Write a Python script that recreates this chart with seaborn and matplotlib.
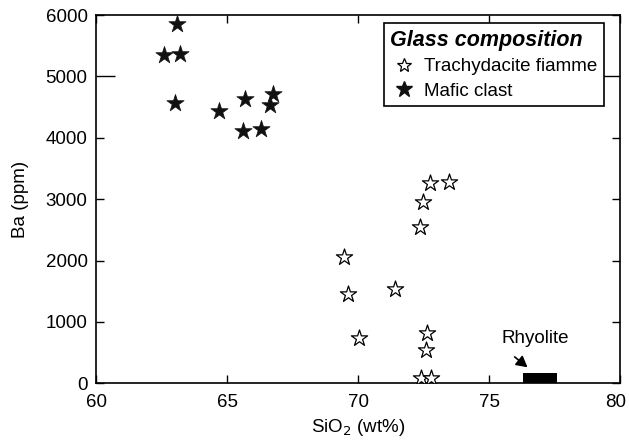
import matplotlib
matplotlib.use("Agg")
import matplotlib.pyplot as plt
import matplotlib.transforms as mtransforms
from matplotlib.lines import Line2D
import seaborn as sns
import pandas as pd

# Data
mafic_sio2 = [63.09, 62.61, 63.22, 63.01, 64.70, 65.69, 66.74, 66.65, 65.62, 66.28]
mafic_ba = [5855, 5350, 5366, 4573, 4438, 4629, 4710, 4531, 4112, 4150]
trachy_sio2 = [72.73, 73.46, 72.48, 72.35, 69.48, 69.61, 71.42, 70.03, 72.65, 72.58, 72.39, 72.77]
trachy_ba = [3260, 3282, 2961, 2554, 2055, 1453, 1544, 736, 818, 546, 85, 85]
rhyolite_sio2 = [76.3, 77.6]
rhyolite_ba = [0, 175]
x_ticks = [60, 65, 70, 75, 80]
y_ticks = [0, 1000, 2000, 3000, 4000, 5000, 6000]

sns.set_theme(style="ticks")
plt.rcParams['font.family'] = ['Liberation Sans', 'DejaVu Sans']
plt.rcParams['text.color'] = 'black'
plt.rcParams['axes.labelcolor'] = 'black'

fig = plt.figure(figsize=(6.29, 4.42), dpi=100)
ax = fig.add_axes([96 / 629, 1 - 383.3 / 442, 524 / 629, 368.3 / 442])

df_t = pd.DataFrame({"SiO2": trachy_sio2, "Ba": trachy_ba})
df_m = pd.DataFrame({"SiO2": mafic_sio2, "Ba": mafic_ba})

sns.scatterplot(data=df_t, x="SiO2", y="Ba", ax=ax, marker="*", s=150,
                facecolor="white", edgecolor="black", linewidth=0.9, zorder=3)
sns.scatterplot(data=df_m, x="SiO2", y="Ba", ax=ax, marker="*", s=170,
                color="#111111", edgecolor="#111111", linewidth=0.5, zorder=3)

ax.fill_between(rhyolite_sio2, rhyolite_ba[0], rhyolite_ba[1], color="black", zorder=2, linewidth=0)
ax.text(76.76, 722, "Rhyolite", ha="center", va="center", fontsize=13.5, color="black")
ax.annotate("", xy=(76.47, 260), xytext=(75.98, 430),
            arrowprops=dict(arrowstyle="-|>,head_length=0.55,head_width=0.3", color="black",
                            lw=1.2, shrinkA=0, shrinkB=0))

ax.set_xlim(60, 80)
ax.set_ylim(0, 6000)
ax.set_xticks(x_ticks)
ax.set_yticks(y_ticks)
ax.tick_params(direction="in", top=True, right=True, length=6, width=1,
               labelsize=13.5, colors="black")
ax.tick_params(axis="x", pad=8)
ax.tick_params(axis="y", pad=6)
# the 5000 tick is drawn longer in the reference
t5 = ax.yaxis.get_major_ticks()[5]
t5.tick1line.set_markersize(14)
t5.tick2line.set_markersize(12)
for sp in ax.spines.values():
    sp.set_linewidth(1.2)
    sp.set_color("black")

ax.set_xlabel("SiO$_2$ (wt%)", fontsize=13.5, labelpad=4)
ax.set_ylabel("Ba (ppm)", fontsize=13.5, labelpad=12)

fig.canvas.draw()
last = ax.get_xticklabels()[-1]
last.set_transform(last.get_transform() + mtransforms.ScaledTranslation(-4 / 100, 0, fig.dpi_scale_trans))

handles = [
    Line2D([], [], marker="*", linestyle="none", markersize=10, markerfacecolor="white",
           markeredgecolor="black", markeredgewidth=0.9, label="Trachydacite fiamme"),
    Line2D([], [], marker="*", linestyle="none", markersize=12, markerfacecolor="#111111",
           markeredgecolor="#111111", label="Mafic clast"),
]
leg = ax.legend(handles=handles, loc="upper right", bbox_to_anchor=(0.9695, 0.978),
                title="Glass composition", fontsize=13.5, frameon=True, fancybox=False,
                edgecolor="black", borderpad=0.35, handletextpad=0.4, handlelength=1.4,
                labelspacing=0.4, borderaxespad=0.0)
leg.get_title().set_fontsize(15.5)
leg.get_title().set_fontweight("bold")
leg.get_title().set_fontstyle("italic")
leg._legend_box.align = "left"
leg.get_frame().set_linewidth(1.2)
leg.get_frame().set_alpha(1)

fig.savefig("out.png", dpi=100)
